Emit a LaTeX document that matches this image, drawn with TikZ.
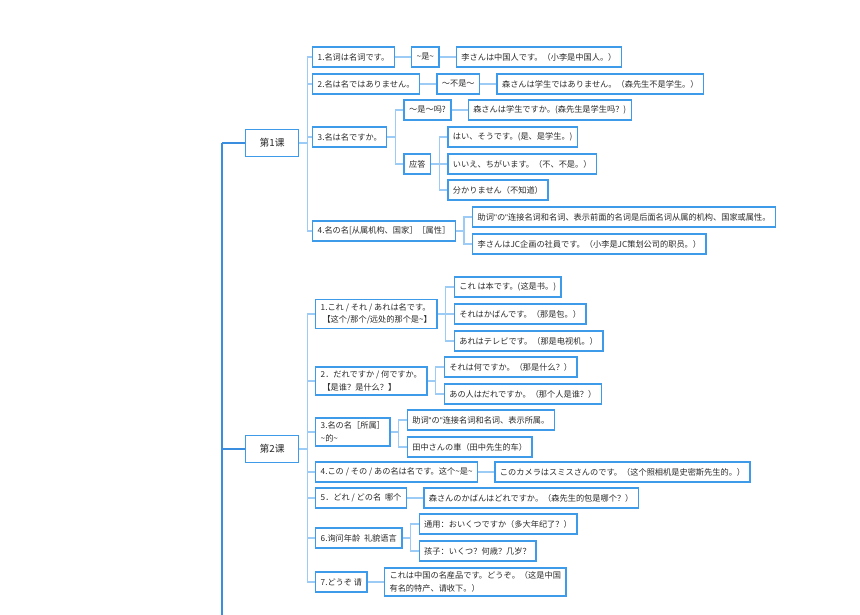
\documentclass[tikz,border=0pt]{standalone}
\usepackage{fontspec}
\setmainfont{Noto Sans CJK SC}
\newfontfamily\latinf{Liberation Sans}
\newcommand{\q}{{\latinf "}}
\usepackage{tikz}
\usetikzlibrary{positioning,backgrounds}

\definecolor{boxblue}{HTML}{3D9BEA}
\definecolor{linkblue}{HTML}{9CCBF5}
\definecolor{trunkblue}{HTML}{3A8EE0}
\definecolor{txtgray}{HTML}{2A2A2A}

\begin{document}
\begin{tikzpicture}
			[x=1pt,y=-1pt,node distance=16pt,
			item/.style={draw=boxblue,line width=1.4pt,fill=white,text=txtgray,inner xsep=5pt,inner ysep=4pt,
				minimum height=20pt,align=left,anchor=west,font=\fontsize{8.2}{12.5}\selectfont},
			lesson/.style={item,minimum height=27pt,minimum width=53pt,align=center,font=\fontsize{9.8}{11}\selectfont},
			link/.style={draw=linkblue,line width=1.4pt},
			trunk/.style={draw=trunkblue,line width=1.4pt}]
			
			\useasboundingbox (0,0) rectangle (860,615);
			
			% lesson 1
			\node [lesson](k1) at (245,143)                      {第1课};
			\node [item](a1) at (312,57)                         {1.名词は名词です。};
				\node [item](a1x) [right=of a1]                  {\textasciitilde 是\textasciitilde};
				\node [item](a1y) [right=of a1x]                 {李さんは中国人です。（小李是中国人。）};
			\node [item](a2) at (312,84)                         {2.名は名ではありません。};
				\node [item](a2x) [right=of a2]                  {～不是～};
				\node [item](a2y) [right=of a2x]                 {森さんは学生ではありません。（森先生不是学生。）};
			\node [item](a3) at (312,137)                        {3.名は名ですか。};
				\node [item](a3q) [right=of a3, yshift=27pt]     {～是～吗?};
				\node [item](a3qx) [right=of a3q]                {森さんは学生ですか。(森先生是学生吗？)};
				\node [item](a3r) [right=of a3, yshift=-27pt]    {应答};
				\node [item](a3r1) [right=of a3r, yshift=27pt]   {はい、そうです。(是、是学生。)};
				\node [item](a3r2) [right=of a3r]                {いいえ、ちがいます。（不、不是。）};
				\node [item](a3r3) [right=of a3r, yshift=-26pt]  {分かりません（不知道）};
			\node [item](a4) at (312,231)                        {4.名の名[从属机构、国家］［属性］};
				\node [item](a4a) [right=of a4, yshift=14pt]     {助词\q の\q 连接名词和名词、表示前面的名词是后面名词从属的机构、国家或属性。};
				\node [item](a4b) [right=of a4, yshift=-13pt]    {李さんはJC企画の社員です。（小李是JC策划公司的职员。）};
			
			% lesson 2
			\node [lesson](k2) at (245,449)                      {第2课};
			\node [item](b1) at (315,314)                        {1.これ / それ / あれは名です。\\ \ 【这个/那个/远处的那个是\textasciitilde】};
				\node [item](b1a) [right=of b1, yshift=27pt]     {これ は本です。(这是书。)};
				\node [item](b1b) [right=of b1]                  {それはかばんです。（那是包。）};
				\node [item](b1c) [right=of b1, yshift=-27pt]    {あれはテレビです。（那是电视机。）};
			\node [item](b2) at (315,381)                        {2．だれですか / 何ですか。\\ \ 【是谁？是什么？】};
				\node [item](b2a) [right=of b2, yshift=14pt]     {それは何ですか。（那是什么？）};
				\node [item](b2b) [right=of b2, yshift=-13pt]    {あの人はだれですか。（那个人是谁？）};
			\node [item](b3) at (315,432)                        {3.名の名［所属］\\ \textasciitilde 的\textasciitilde};
				\node [item](b3a) [right=of b3, yshift=12pt]     {助词\q の\q 连接名词和名词、表示所属。};
				\node [item](b3b) [right=of b3, yshift=-15pt]    {田中さんの車（田中先生的车）};
			\node [item](b4) at (315,472)                        {4.この / その / あの名は名です。这个\textasciitilde 是\textasciitilde};
				\node [item](b4a) [right=of b4]                  {このカメラはスミスさんのです。（这个照相机是史密斯先生的。）};
			\node [item](b5) at (315,498)                        {5．どれ / どの名\ \ 哪个};
				\node [item](b5a) [right=of b5]                  {森さんのかばんはどれですか。（森先生的包是哪个？）};
			\node [item](b6) at (315,538)                        {6.询问年龄\ \ 礼貌语言};
				\node [item](b6a) [right=of b6, yshift=14pt]     {通用：おいくつですか（多大年纪了？）};
				\node [item](b6b) [right=of b6, yshift=-13pt]    {孩子：いくつ？何歳？几岁？};
			\node [item](b7) at (315,582)                        {7.どうぞ 请};
				\node [item](b7a) [right=of b7]                  {これは中国の名産品です。どうぞ。（这是中国\\有名的特产、请收下。）};
			
			\begin{scope}[on background layer]
				\coordinate (top) at (222,143);
				\coordinate (bot) at (222,615);
				\draw [trunk] (top) -- (bot);
				\draw [trunk] (top) -- (k1.west);
				\draw [trunk] (k2.west) -- (k2.west -| top);
				
				\foreach \c in {a1,a2,a3,a4}
					\draw [link] (k1.east) -- ++(8,0) |- (\c.west);
				\foreach \p/\c in {a1/a1x,a1x/a1y,a2/a2x,a2x/a2y,a3/a3q,a3/a3r,a3q/a3qx,
					a3r/a3r1,a3r/a3r2,a3r/a3r3,a4/a4a,a4/a4b}
					\draw [link] (\p.east) -- ++(8,0) |- (\c.west);
				
				\foreach \c in {b1,b2,b3,b4,b5,b6,b7}
					\draw [link] (k2.east) -- ++(8,0) |- (\c.west);
				\foreach \p/\c in {b1/b1a,b1/b1b,b1/b1c,b2/b2a,b2/b2b,b3/b3a,b3/b3b,
					b4/b4a,b5/b5a,b6/b6a,b6/b6b,b7/b7a}
					\draw [link] (\p.east) -- ++(8,0) |- (\c.west);
			\end{scope}
			
\end{tikzpicture}
\end{document}
